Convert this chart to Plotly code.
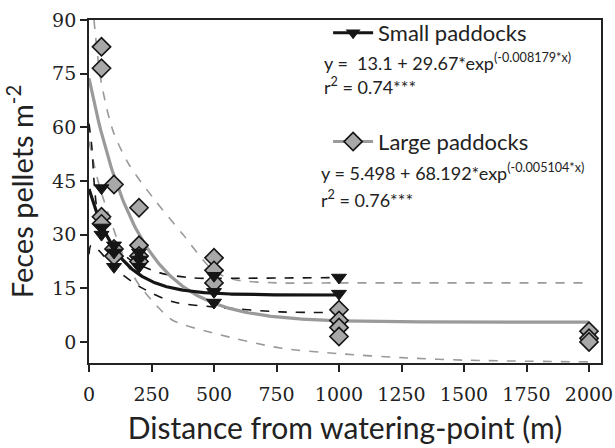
import numpy as np
import plotly.graph_objects as go

# ---- data ----
small_x = [50, 50, 50, 100, 100, 100, 200, 200, 200, 500, 500, 500, 1000, 1000]
small_y = [43, 32, 30, 27, 25, 21, 25, 23, 21, 18.5, 14, 11, 18, 13.5]

large_x = [50, 50, 50, 50, 100, 100, 100, 200, 200, 200, 200, 500, 500, 500, 1000, 1000, 1000, 1000, 2000, 2000, 2000]
large_y = [82.5, 76.5, 35, 33, 44, 26, 24, 37.5, 27, 24, 22.5, 23.5, 20, 16.5, 9, 6, 4, 1.5, 3, 1, 0]

# fitted model parameters (as printed on the chart)
small_fit = dict(a=13.1, b=29.67, k=0.008179, xmax=1000)
large_fit = dict(a=5.498, b=68.192, k=0.005104, xmax=2000)

# 95% confidence bands
small_up_x = [0, 12, 20, 35, 72, 164, 284, 416, 600, 1000]
small_up_y = [61, 54, 45, 36, 29.4, 23, 19.3, 17.9, 17.8, 18]
small_lo_x = [0, 8, 40, 96, 204, 336, 496, 764, 1000]
small_lo_y = [24.5, 27, 25.5, 21, 15.4, 11.2, 9.8, 8.4, 8.2]

large_up_x = [10, 20, 48, 96, 160, 256, 376, 496, 576, 750, 1000, 2000]
large_up_y = [100, 90, 73, 59, 49.6, 40.3, 30, 20, 17.5, 16.5, 16.5, 16.5]
large_lo_x = [0, 40, 96, 150, 200, 272, 336, 496, 764, 1000, 1250, 1500, 2000]
large_lo_y = [56, 44, 32, 22, 16, 10, 6, 2.5, -1.7, -3.3, -4.4, -5.1, -5.6]

x_ticks = [0, 250, 500, 750, 1000, 1250, 1500, 1750, 2000]
y_ticks = [0, 15, 30, 45, 60, 75, 90]

eq_small = "y =&nbsp;&nbsp;13.1 + 29.67*exp<sup>(-0.008179*x)</sup>"
r2_small = "r<sup>2</sup> = 0.74***"
eq_large = "y = 5.498 + 68.192*exp<sup>(-0.005104*x)</sup>"
r2_large = "r<sup>2</sup> = 0.76***"

BLACK = "#151515"
GRAY = "#9a9a9a"
DFILL = "#a8a8a8"
SANS = "Lato"
SERIF = "DejaVu Serif"


def fit_curve(p):
    xs = np.linspace(0, p["xmax"], 300)
    return xs, p["a"] + p["b"] * np.exp(-p["k"] * xs)


fig = go.Figure()

# confidence bands
for xs, ys, col in [(large_up_x, large_up_y, GRAY), (large_lo_x, large_lo_y, GRAY),
                    (small_up_x, small_up_y, BLACK), (small_lo_x, small_lo_y, BLACK)]:
    fig.add_trace(go.Scatter(x=xs, y=ys, mode="lines", showlegend=False, hoverinfo="skip",
                             line=dict(color=col, width=1.6, dash="dash", shape="spline", smoothing=0.8)))

# fitted curves
lx, ly = fit_curve(large_fit)
fig.add_trace(go.Scatter(x=lx, y=ly, mode="lines", showlegend=False,
                         line=dict(color=GRAY, width=3.2)))
sx, sy = fit_curve(small_fit)
fig.add_trace(go.Scatter(x=sx, y=sy, mode="lines", showlegend=False,
                         line=dict(color=BLACK, width=3.2)))

# observations
fig.add_trace(go.Scatter(x=large_x, y=large_y, mode="markers", showlegend=False,
                         marker=dict(symbol="diamond", size=14, color=DFILL,
                                     line=dict(color=BLACK, width=1.6))))
fig.add_trace(go.Scatter(x=small_x, y=small_y, mode="markers", showlegend=False,
                         marker=dict(symbol="triangle-down", size=13, color=BLACK,
                                     line=dict(color=BLACK, width=1))))

# legend entries
fig.add_trace(go.Scatter(x=[None], y=[None], mode="lines+markers", name="Small paddocks",
                         legend="legend",
                         line=dict(color=BLACK, width=3),
                         marker=dict(symbol="triangle-down", size=13, color=BLACK)))
fig.add_trace(go.Scatter(x=[None], y=[None], mode="lines+markers", name="Large paddocks",
                         legend="legend2",
                         line=dict(color=GRAY, width=3),
                         marker=dict(symbol="diamond", size=14, color=DFILL,
                                     line=dict(color=BLACK, width=1.6))))

ann_font = dict(family=SANS, size=18, color="#222")
annotations = [
    dict(text=eq_small, x=0.455, y=0.878),
    dict(text=r2_small, x=0.455, y=0.808),
    dict(text=eq_large, x=0.449, y=0.556),
    dict(text=r2_large, x=0.449, y=0.477),
]
for a in annotations:
    a.update(xref="paper", yref="paper", xanchor="left", yanchor="middle",
             showarrow=False, font=ann_font)

fig.update_layout(
    width=615, height=448,
    margin=dict(l=89, r=14, t=20, b=85),
    plot_bgcolor="white", paper_bgcolor="white",
    font=dict(family=SANS, size=20, color="#222"),
    xaxis=dict(range=[0, 2048], tickvals=x_ticks, ticktext=[str(v) for v in x_ticks],
               ticklabeloverflow="allow", ticklabelstandoff=6, automargin=False,
               title=dict(text="Distance from watering-point (m)",
                          font=dict(family=SANS, size=30, color="#222"), standoff=14)),
    yaxis=dict(range=[-5.9, 90], tickvals=y_ticks, ticktext=[str(v) for v in y_ticks],
               automargin=False,
               title=dict(text="Feces pellets m<sup>-2</sup>",
                          font=dict(family=SANS, size=29, color="#222"), standoff=10)),
    legend=dict(x=0.467, y=0.962, xanchor="left", yanchor="middle",
                bgcolor="rgba(0,0,0,0)", font=dict(family=SANS, size=22, color="#222"),
                itemwidth=40),
    legend2=dict(x=0.467, y=0.645, xanchor="left", yanchor="middle",
                 bgcolor="rgba(0,0,0,0)", font=dict(family=SANS, size=22, color="#222"),
                 itemwidth=40),
    annotations=annotations,
)
axfmt = dict(showline=True, linecolor="#222", linewidth=1.8, mirror=True,
             ticks="outside", ticklen=7, tickwidth=1.6, tickcolor="#222",
             showgrid=False, zeroline=False,
             tickfont=dict(family=SERIF, size=19, color="#222"))
fig.update_xaxes(**axfmt)
fig.update_yaxes(**axfmt)

fig.write_html("out.html")
